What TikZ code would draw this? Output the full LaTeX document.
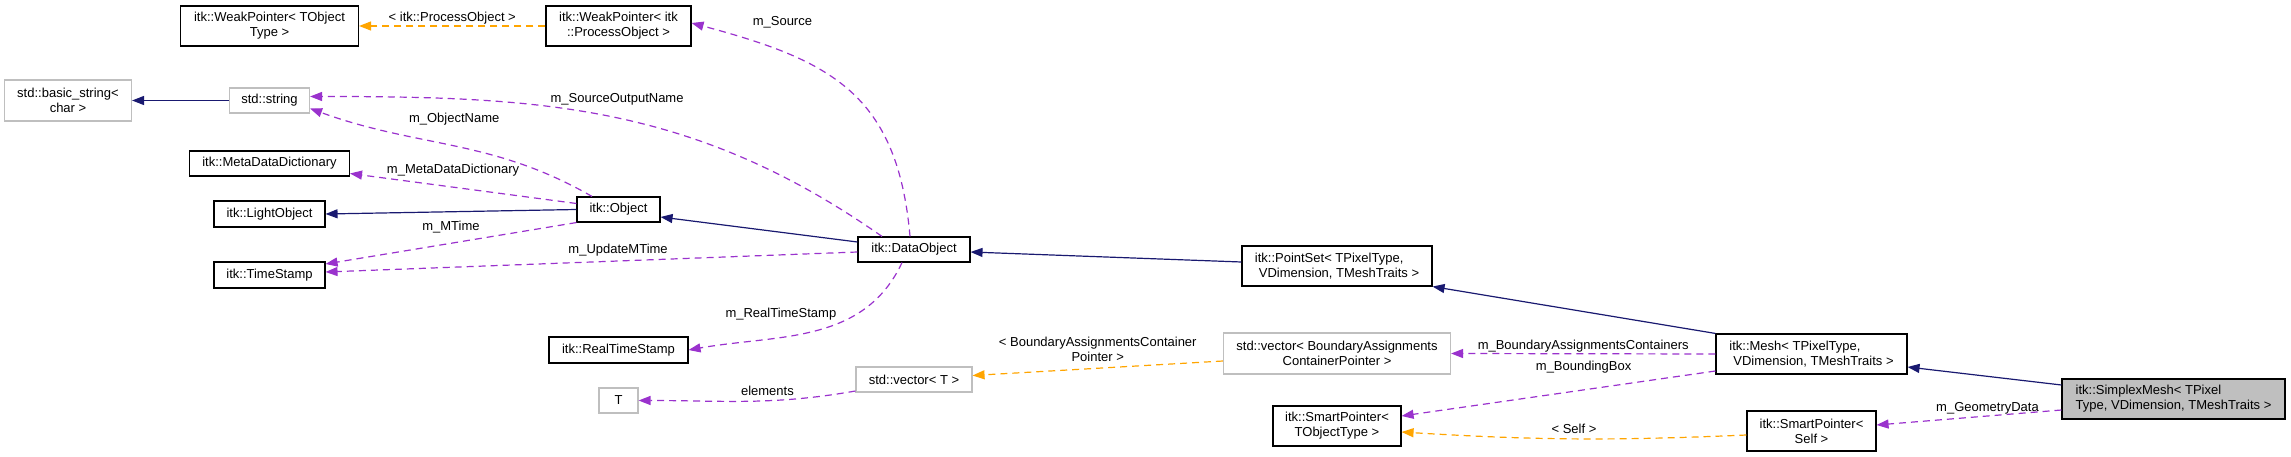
\documentclass[tikz,border=0pt]{standalone}
\usepackage{fontspec}
\setmainfont{Liberation Sans}
\usetikzlibrary{arrows.meta,positioning}
\definecolor{inhcolor}{RGB}{25,25,112}
\definecolor{memcolor}{RGB}{154,50,205}
\definecolor{tplcolor}{RGB}{255,165,0}
\definecolor{extcolor}{RGB}{191,191,191}

\begin{document}
\begin{tikzpicture}[
  cls/.style={draw, line width=1.1pt, on grid, minimum height=25pt,
              inner xsep=4pt, inner ysep=2pt, align=center,
              font=\fontsize{13}{15}\selectfont},
  extcls/.style={cls, draw=extcolor},
  lbl/.style={font=\fontsize{13}{15}\selectfont, inner sep=1pt, align=center},
  inherit/.style={-{Triangle[length=12pt,width=9pt]}, line width=1.2pt, draw=inhcolor},
  member/.style={-{Triangle[length=12pt,width=9pt]}, line width=1.2pt,
                 draw=memcolor, dash pattern=on 7pt off 5pt},
  tmpl/.style={member, draw=tplcolor}
]
\useasboundingbox (0,0) rectangle (2291pt,-457pt);

% Mesh chain
\node[cls, fill=extcolor, minimum width=223pt, minimum height=40pt, align=left]
     (simplex) at (2173.5pt,-399pt) {itk::SimplexMesh< TPixel\\Type, VDimension, TMeshTraits >};
\node[cls, minimum width=191pt, minimum height=40pt, align=left,
      above left=45pt and 362pt of simplex] (mesh) {itk::Mesh< TPixelType,\\\hspace*{4pt}VDimension, TMeshTraits >};
\node[cls, minimum width=129pt, minimum height=40pt,
      below=77pt of mesh] (spself) {itk::SmartPointer<\\Self >};
\node[cls, minimum width=190pt, minimum height=40pt, align=left,
      above left=88pt and 474.5pt of mesh] (pointset) {itk::PointSet< TPixelType,\\\hspace*{4pt}VDimension, TMeshTraits >};
\node[extcls, minimum width=227pt, minimum height=41pt,
      below=87.5pt of pointset] (vecbac) {std::vector< BoundaryAssignments\\ContainerPointer >};
\node[cls, minimum width=128pt, minimum height=40pt,
      below=72.5pt of vecbac] (sptobj) {itk::SmartPointer<\\TObjectType >};

% DataObject column
\node[cls, minimum width=112pt, above left=16.5pt and 423pt of pointset] (dataobj) {itk::DataObject};
\node[extcls, minimum width=116pt, below=130pt of dataobj] (vect) {std::vector< T >};

% Object column
\node[cls, minimum width=83pt, above left=40pt and 295.5pt of dataobj] (object) {itk::Object};
\node[cls, minimum width=145pt, minimum height=40pt,
      above=183.5pt of object] (wpproc) {itk::WeakPointer< itk\\::ProcessObject >};
\node[cls, minimum width=139pt, minimum height=26pt, below=140.5pt of object] (realts) {itk::RealTimeStamp};
\node[extcls, minimum width=39pt, below=50.5pt of realts] (tparam) {T};

% Left column
\node[cls, minimum width=111pt, minimum height=26pt,
      below left=4.5pt and 349pt of object] (lightobj) {itk::LightObject};
\node[cls, minimum width=111pt, minimum height=26pt, below=61pt of lightobj] (timestamp) {itk::TimeStamp};
\node[cls, minimum width=160pt, above=50.5pt of lightobj] (metadict) {itk::MetaDataDictionary};
\node[extcls, minimum width=80pt, above=63pt of metadict] (stdstr) {std::string};
\node[cls, minimum width=178pt, minimum height=40pt,
      above=74.5pt of stdstr] (wptobj) {itk::WeakPointer< TObject\\Type >};
\node[extcls, minimum width=127pt, minimum height=41pt,
      left=201.5pt of stdstr] (basicstr) {std::basic\_string<\\char >};

% Inheritance
\draw[inherit] ([yshift=14pt]simplex.west) -- ([yshift=-13pt]mesh.east);
\draw[inherit] (mesh.north west) -- (pointset.south east);
\draw[inherit] ([yshift=4pt]pointset.west) -- ([yshift=-2.5pt]dataobj.east);
\draw[inherit] ([yshift=7.5pt]dataobj.west) -- ([yshift=-7.5pt]object.east);
\draw[inherit] (object.west) -- (lightobj.east);
\draw[inherit] (stdstr.west) -- (basicstr.east);

% Members
\draw[member] ([yshift=-11pt]simplex.west) -- node[lbl, above, pos=0.4] {m\_GeometryData} ([yshift=6pt]spself.east);
\draw[tmpl] ([yshift=-4pt]spself.west) to[bend left=3] node[lbl, above=4pt] {< Self >} ([yshift=-6pt]sptobj.east);
\draw[member] ([yshift=-17pt]mesh.west) -- node[lbl, above=15pt, pos=0.42] {m\_BoundingBox} ([yshift=10pt]sptobj.east);
\draw[member] (mesh.west) -- node[lbl, above] {m\_BoundaryAssignmentsContainers} (vecbac.east);
\draw[tmpl] ([yshift=-7.5pt]vecbac.west) -- node[lbl, above=5pt]
     {< BoundaryAssignmentsContainer\\Pointer >} ([yshift=4pt]vect.east);
\draw[member] ([yshift=-11.5pt]vect.west) to[out=190, in=0] node[lbl, above=3pt, pos=0.4] {elements} (tparam.east);
\draw[member] ([xshift=-12pt]dataobj.south) to[out=-115, in=10] node[lbl, left, pos=0.3, xshift=-18pt] {m\_RealTimeStamp} (realts.east);
\draw[member] ([yshift=-2.5pt]dataobj.west) -- node[lbl, above=3pt, pos=0.45] {m\_UpdateMTime} ([yshift=3pt]timestamp.east);
\draw[member] (object.south west) -- node[lbl, above=9pt] {m\_MTime} ([yshift=11pt]timestamp.east);
\draw[member] ([yshift=6pt]object.west) -- node[lbl, above=9pt, pos=0.545] {m\_MetaDataDictionary} ([yshift=-10pt]metadict.east);
\draw[member] ([xshift=-26.5pt]object.north) to[out=150, in=-20] node[lbl, above=19pt] {m\_ObjectName} ([yshift=-8pt]stdstr.east);
\draw[member] ([xshift=-32pt]dataobj.north) to[out=145, in=0] node[lbl, above=11pt, pos=0.49] {m\_SourceOutputName} ([yshift=4pt]stdstr.east);
\draw[member] ([xshift=-4pt]dataobj.north) to[out=95, in=-15, looseness=1.2] node[lbl, above=22pt, pos=0.75] {m\_Source} ([yshift=3pt]wpproc.east);
\draw[tmpl] (wpproc.west) -- node[lbl, above] {< itk::ProcessObject >} (wptobj.east);

\end{tikzpicture}
\end{document}
